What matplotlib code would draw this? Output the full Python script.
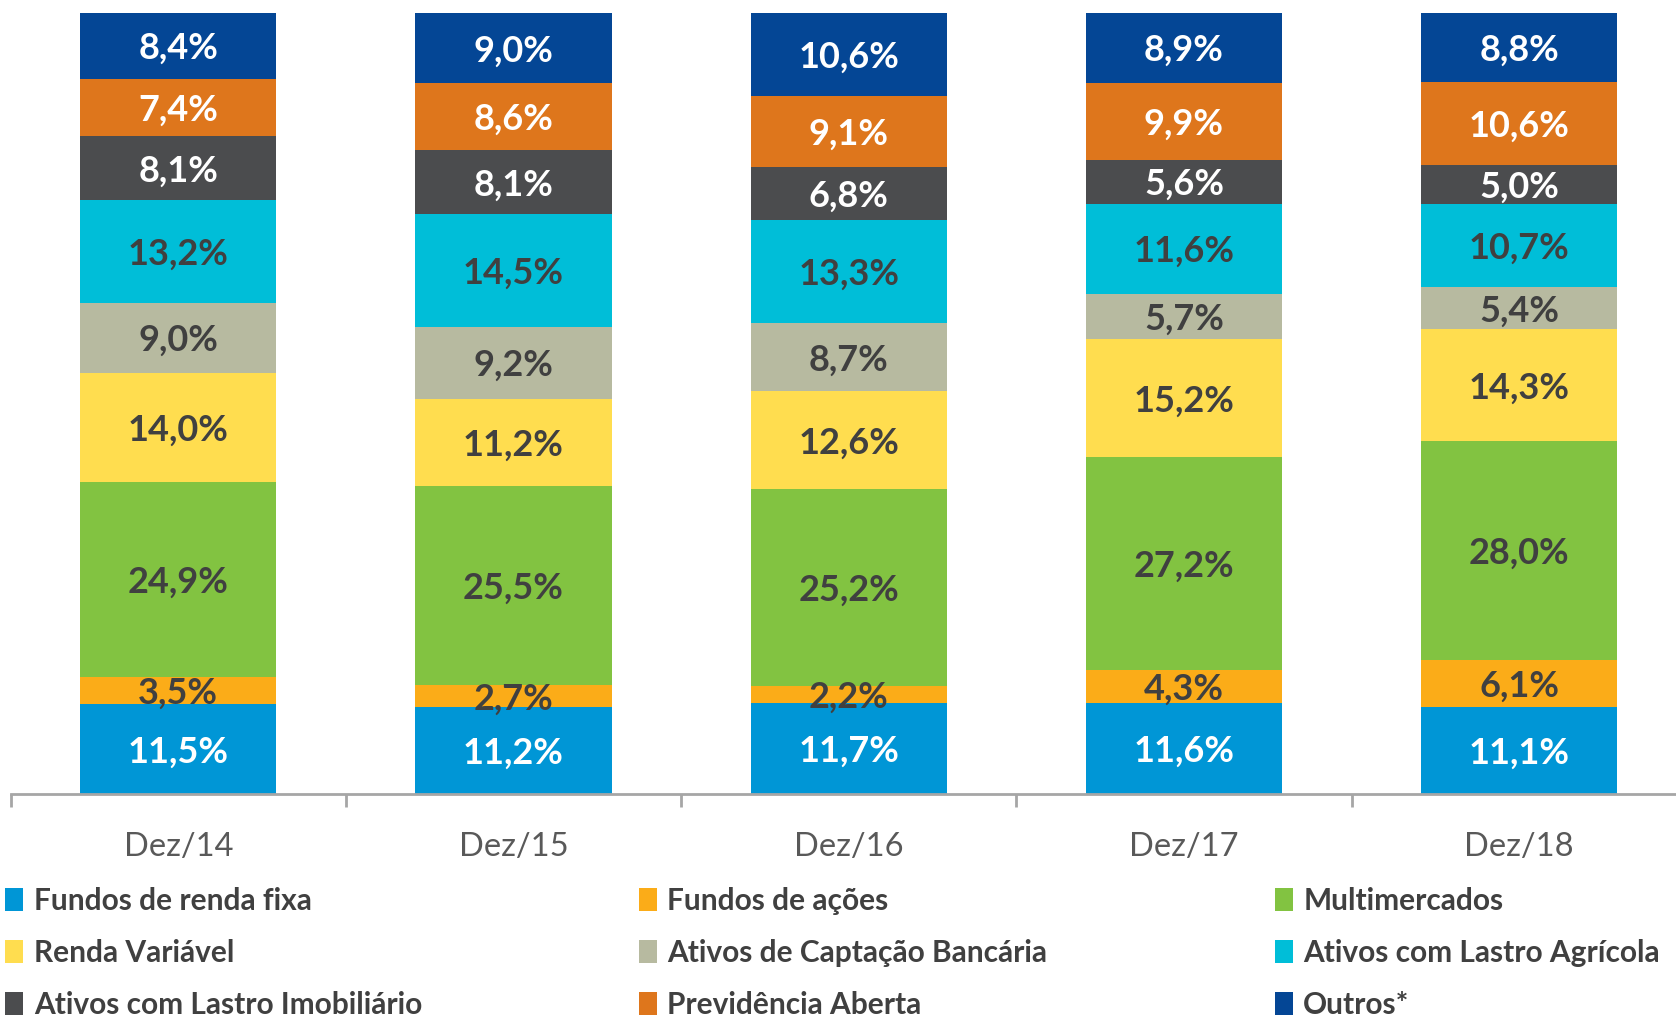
import matplotlib
matplotlib.use("Agg")
import matplotlib.pyplot as plt
import numpy as np

plt.rcParams['font.family'] = ['Lato', 'DejaVu Sans']

categories = ["Dez/14", "Dez/15", "Dez/16", "Dez/17", "Dez/18"]
series_names = ["Fundos de renda fixa", "Fundos de ações", "Multimercados",
                "Renda Variável", "Ativos de Captação Bancária", "Ativos com Lastro Agrícola",
                "Ativos com Lastro Imobiliário", "Previdência Aberta", "Outros*"]
renda_fixa = [11.5, 11.2, 11.7, 11.6, 11.1]
acoes = [3.5, 2.7, 2.2, 4.3, 6.1]
multimercados = [24.9, 25.5, 25.2, 27.2, 28.0]
renda_variavel = [14.0, 11.2, 12.6, 15.2, 14.3]
captacao = [9.0, 9.2, 8.7, 5.7, 5.4]
agricola = [13.2, 14.5, 13.3, 11.6, 10.7]
imobiliario = [8.1, 8.1, 6.8, 5.6, 5.0]
previdencia = [7.4, 8.6, 9.1, 9.9, 10.6]
outros = [8.4, 9.0, 10.6, 8.9, 8.8]

series = [renda_fixa, acoes, multimercados, renda_variavel, captacao,
          agricola, imobiliario, previdencia, outros]
colors = ["#0096D6", "#FBAC18", "#82C341", "#FFDD4F", "#B7BAA0",
          "#00BED8", "#4B4C4E", "#DE761C", "#044695"]
label_colors = ["white", "#404040", "#404040", "#404040", "#404040",
                "#404040", "white", "white", "white"]

W, H = 1676, 1022
fig = plt.figure(figsize=(W / 100, H / 100), dpi=100)
ax = fig.add_axes([10.7 / W, (H - 794) / H, 1676 / W, (794 - 13) / H])

data = np.array(series, dtype=float)
totals = data.sum(axis=0)
norm = data / totals * 100

x = np.arange(len(categories))
bottom = np.zeros(len(categories))
handles = []
for i, name in enumerate(series_names):
    bars = ax.bar(x, norm[i], bottom=bottom, width=0.585, color=colors[i],
                  label=name, linewidth=0)
    handles.append(bars)
    for j in range(len(categories)):
        yc = bottom[j] + norm[i][j] / 2
        ax.annotate(f"{data[i][j]:.1f}%".replace(".", ","), (x[j], yc),
                    xytext=(0, -2), textcoords="offset points",
                    ha="center", va="center", color=label_colors[i],
                    fontsize=26, fontweight="bold")
    bottom += norm[i]

ax.set_xlim(-0.5, len(categories) - 0.5)
ax.set_ylim(0, 100)
for s in ["top", "right", "left"]:
    ax.spines[s].set_visible(False)
ax.spines["bottom"].set_color("#A6A6A6")
ax.spines["bottom"].set_linewidth(2)
ax.set_yticks([])
ax.set_xticks(x)
ax.set_xticklabels(categories, fontsize=23.5, color="#595959")
ax.tick_params(axis="x", which="major", length=0, pad=27)
ax.set_xticks(np.arange(-0.5, len(categories)), minor=True)
ax.tick_params(axis="x", which="minor", length=9, width=2, color="#A6A6A6")

cols_x = [5.4 / W, 639 / W, 1275 / W]
for c in range(3):
    idx = [c, c + 3, c + 6]
    leg = fig.legend([handles[k] for k in idx], [series_names[k] for k in idx],
                     loc="center left", bbox_to_anchor=(cols_x[c], (H - 953) / H),
                     frameon=False, ncol=1, borderpad=0, borderaxespad=0,
                     handlelength=0.6, handleheight=0.8, handletextpad=0.35,
                     labelspacing=0.8,
                     prop={"size": 21.5, "weight": "bold"})
    for t in leg.get_texts():
        t.set_color("#404040")

fig.savefig("out.png", dpi=100)
